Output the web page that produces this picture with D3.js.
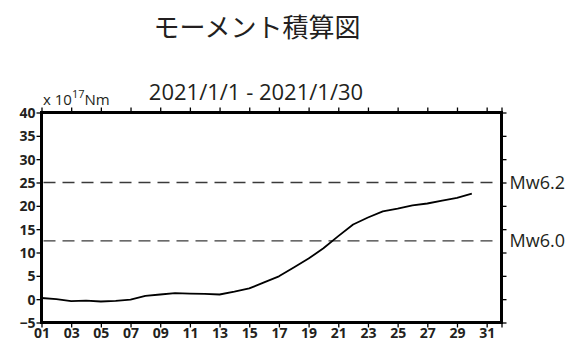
<!DOCTYPE html>
<html>
<head>
<meta charset="utf-8">
<script src="https://cdn.jsdelivr.net/npm/d3@7"></script>
<style>
  html, body { margin: 0; padding: 0; background: #fff; }
  svg { display: block; }
  .tick text { font-family: "Open Sans", sans-serif; font-weight: 700; font-size: 14px; fill: #231f20; }
  .tick line { stroke: #000; stroke-width: 1.3; }
</style>
</head>
<body>
<svg id="chart" width="581" height="349"></svg>
<script>
// Cumulative seismic moment (x10^17 Nm), one value per day
const days = [1, 2, 3, 4, 5, 6, 7, 8, 9, 10, 11, 12, 13, 14, 15, 16, 17, 18, 19, 20,
              21, 22, 23, 24, 25, 26, 27, 28, 29, 30];
const moment = [0.25, 0.0, -0.4, -0.3, -0.5, -0.35, -0.1, 0.7, 1.0, 1.3, 1.2, 1.15, 1.0, 1.6, 2.3,
                3.6, 4.9, 6.8, 8.7, 10.9, 13.5, 16.0, 17.5, 18.8, 19.4, 20.1, 20.5, 21.1, 21.7, 22.6];

// Reference magnitudes shown as dashed lines
const refLabels = ["Mw6.2", "Mw6.0"];
const refValues = [25, 12.5];

const xTicks = [1, 3, 5, 7, 9, 11, 13, 15, 17, 19, 21, 23, 25, 27, 29, 31, 32];
const yTicks = [-5, 0, 5, 10, 15, 20, 25, 30, 35, 40];

const titleText = "モーメント積算図";
const periodText = "2021/1/1 - 2021/1/30";

const svg = d3.select("#chart");
const plotL = 41.5, plotR = 501.5, plotT = 112.5, plotB = 322.5;

const x = d3.scaleLinear().domain([1, 32]).range([plotL, plotR]);
const y = d3.scaleLinear().domain([-5, 40]).range([plotB, plotT]);

// Titles
svg.append("text")
  .attr("x", 257).attr("y", 37)
  .attr("text-anchor", "middle")
  .style("font-family", "'Noto Sans CJK JP', sans-serif")
  .style("font-size", "26px")
  .style("fill", "#231f20")
  .text(titleText);

svg.append("text")
  .attr("x", 256).attr("y", 100)
  .attr("text-anchor", "middle")
  .style("font-family", "'Open Sans', sans-serif")
  .style("font-size", "22px")
  .style("fill", "#231f20")
  .text(periodText);

// Unit label
const unit = svg.append("text")
  .attr("x", 43).attr("y", 105)
  .style("font-family", "'Open Sans', sans-serif")
  .style("font-size", "15px")
  .style("fill", "#231f20");
unit.append("tspan").text("x 10");
unit.append("tspan").attr("dy", -7).style("font-size", "11px").text("17");
unit.append("tspan").attr("dy", 7).text("Nm");

const fmtDay = d => d > 31 ? "" : String(d).padStart(2, "0");

// Axes (ticks only; frame drawn separately)
const gB = svg.append("g").attr("transform", `translate(0,${plotB})`)
  .call(d3.axisBottom(x).tickValues(xTicks).tickFormat(fmtDay).tickSize(5).tickPadding(1));
const gT = svg.append("g").attr("transform", `translate(0,${plotT})`)
  .call(d3.axisTop(x).tickValues(xTicks).tickFormat("").tickSize(5));
const gL = svg.append("g").attr("transform", `translate(${plotL},0)`)
  .call(d3.axisLeft(y).tickValues(yTicks).tickSize(5).tickPadding(1));
const gR = svg.append("g").attr("transform", `translate(${plotR},0)`)
  .call(d3.axisRight(y).tickValues(yTicks).tickFormat("").tickSize(5));
[gB, gT, gL, gR].forEach(g => g.select(".domain").remove());
gL.selectAll(".tick text").attr("dy", "0.36em");

// Reference lines
refValues.forEach((v, i) => {
  svg.append("line")
    .attr("x1", plotL + 2).attr("x2", plotR - 2)
    .attr("y1", y(v)).attr("y2", y(v))
    .attr("stroke", "#3a3a3a").attr("stroke-width", 1.4)
    .attr("stroke-dasharray", "12,7");
  svg.append("text")
    .attr("x", plotR + 8).attr("y", y(v))
    .attr("dy", "0.36em")
    .style("font-family", "'Open Sans', sans-serif")
    .style("font-size", "18px")
    .style("fill", "#231f20")
    .text(refLabels[i]);
});

// Cumulative moment curve
const line = d3.line().x((d, i) => x(days[i])).y(d => y(d));
svg.append("path")
  .datum(moment)
  .attr("d", line)
  .attr("fill", "none")
  .attr("stroke", "#000")
  .attr("stroke-width", 1.8)
  .attr("stroke-linejoin", "round");

// Frame
svg.append("rect")
  .attr("x", plotL).attr("y", plotT)
  .attr("width", plotR - plotL).attr("height", plotB - plotT)
  .attr("fill", "none").attr("stroke", "#000").attr("stroke-width", 3);
</script>
</body>
</html>
